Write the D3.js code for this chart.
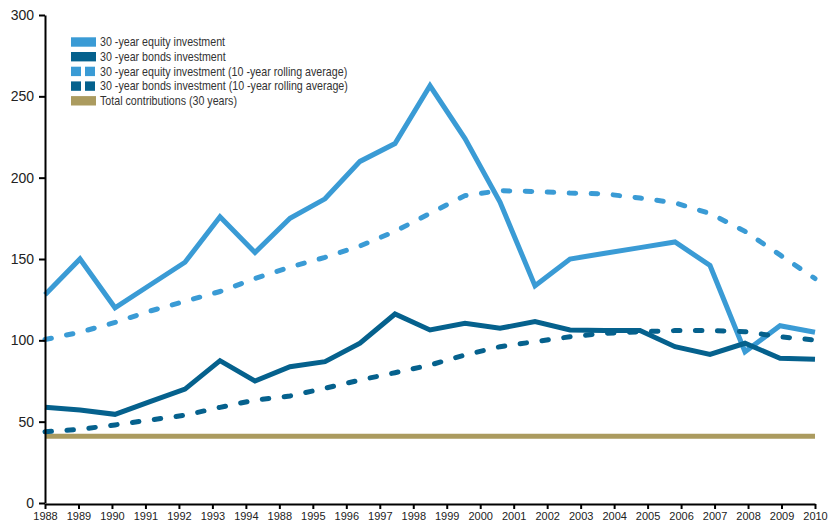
<!DOCTYPE html>
<html>
<head>
<meta charset="utf-8">
<script src="https://cdn.jsdelivr.net/npm/d3@7"></script>
<style>
  html, body { margin: 0; padding: 0; background: #fff; }
  svg { display: block; }
  .axis text { font-family: "Liberation Sans", Arial, sans-serif; fill: #222; }
  .axis path, .axis line { stroke: #000; }
  .legend text { font-family: "Liberation Sans", Arial, sans-serif; font-size: 12px; fill: #333; }
</style>
</head>
<body>
<svg id="chart" width="829" height="527"></svg>
<script>
// Years of the series (one value per year)
const years = d3.range(1988, 2011);

// Axis tick labels as printed along the bottom
const tickLabels = ["1988","1989","1990","1991","1992","1993","1994","1988","1995","1996",
  "1997","1998","1999","2000","2001","2002","2003","2004","2005","2006","2007","2008","2009","2010"];

const yTicks = [0, 50, 100, 150, 200, 250, 300];

// 30-year equity investment
const equity = [128, 150, 120, 134, 148, 176, 154, 175, 187, 210, 221, 256.5, 224, 185, 133.5,
  150, 153.5, 157, 160.5, 146, 93, 109, 105];

// 30-year bonds investment
const bonds = [58.8, 57.2, 54.5, 62.3, 70, 87.5, 75, 83.8, 86.9, 98.2, 116.2, 106.4, 110.5,
  107.4, 111.5, 106.4, 106, 106, 96.1, 91.4, 98.2, 89, 88.3];

// 30-year equity investment, 10-year rolling average
const equityAvg = [100.5, 105, 111, 118, 124, 130, 138, 145, 151, 158, 167, 178, 189, 192,
  191.5, 190.5, 190, 187.5, 184.5, 178, 167, 152.5, 138];

// 30-year bonds investment, 10-year rolling average
const bondsAvg = [43.8, 45.3, 48, 51, 54, 58.8, 63.3, 65.8, 70.5, 75.6, 80.1, 84.8, 91, 96.1,
  99.2, 102.2, 104.3, 105.3, 106, 106, 105.3, 102.2, 100.2];

// Total contributions over 30 years
const contributions = years.map(() => 41);

const seriesNames = [
  "30 -year equity investment",
  "30 -year bonds investment",
  "30 -year equity investment (10 -year rolling average)",
  "30 -year bonds investment (10 -year rolling average)",
  "Total contributions (30 years)"
];

const lightBlue = "#3a9bd5";
const darkBlue = "#05618d";
const tan = "#ab9b5f";

const svg = d3.select("#chart");

const x = d3.scaleLinear().domain([1988, 2010]).range([45, 815]);
const xTick = d3.scalePoint().domain(d3.range(tickLabels.length)).range([45, 815]);
const y = d3.scaleLinear().domain([0, 300]).range([503, 15]);

const line = d3.line().x((d, i) => x(years[i])).y(d => y(d));

const dash = "6.5,15.5";
const layers = [
  { data: contributions, color: tan, dashed: false },
  { data: equity, color: lightBlue, dashed: false },
  { data: bonds, color: darkBlue, dashed: false },
  { data: equityAvg, color: lightBlue, dashed: true },
  { data: bondsAvg, color: darkBlue, dashed: true }
];

svg.append("g").selectAll("path")
  .data(layers)
  .join("path")
  .attr("d", d => line(d.data))
  .attr("fill", "none")
  .attr("stroke", d => d.color)
  .attr("stroke-width", 5)
  .attr("stroke-linejoin", "miter")
  .attr("stroke-linecap", d => d.dashed ? "round" : "butt")
  .attr("stroke-dasharray", d => d.dashed ? dash : null);

// Y axis
const yAxis = svg.append("g")
  .attr("class", "axis")
  .attr("transform", "translate(45,0)")
  .call(d3.axisLeft(y).tickValues(yTicks).tickSize(6).tickSizeOuter(0).tickPadding(5));
yAxis.selectAll("text").style("font-size", "14px");
yAxis.select(".domain").attr("stroke-width", 2);
yAxis.selectAll(".tick line").attr("stroke-width", 2);

// X axis
const xAxis = svg.append("g")
  .attr("class", "axis")
  .attr("transform", "translate(0,504)")
  .call(d3.axisBottom(xTick).tickFormat(i => tickLabels[i]).tickSize(5).tickSizeOuter(0).tickPadding(3));
xAxis.selectAll("text").style("font-size", "11px");
xAxis.select(".domain").attr("stroke-width", 2);
xAxis.selectAll(".tick line").attr("stroke-width", 2);

// Legend (condensed type: text is squeezed horizontally)
const legendColors = [lightBlue, darkBlue, lightBlue, darkBlue, tan];
const legendDashed = [false, false, true, true, false];
const legend = svg.append("g").attr("class", "legend").attr("transform", "translate(71,42)");
const rows = legend.selectAll("g").data(seriesNames).join("g")
  .attr("transform", (d, i) => `translate(0,${i * 14.7})`);
rows.each(function(d, i) {
  const g = d3.select(this);
  if (legendDashed[i]) {
    g.append("rect").attr("x", 0).attr("y", -4.7).attr("width", 10).attr("height", 9.4).attr("fill", legendColors[i]);
    g.append("rect").attr("x", 14).attr("y", -4.7).attr("width", 10).attr("height", 9.4).attr("fill", legendColors[i]);
  } else {
    g.append("rect").attr("x", 0).attr("y", -4.7).attr("width", 25).attr("height", 9.4).attr("fill", legendColors[i]);
  }
  g.append("text")
    .attr("transform", "translate(29,4.3) scale(0.89,1)")
    .text(d);
});
</script>
</body>
</html>
